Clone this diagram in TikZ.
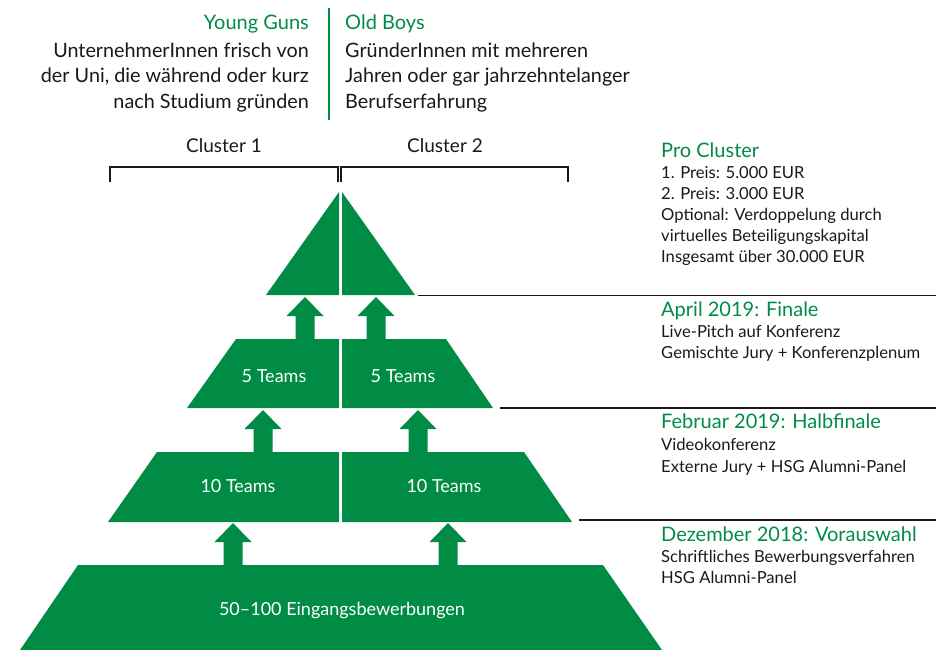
\documentclass[tikz,border=0pt]{standalone}
\usepackage{fontspec}
\setmainfont{Lato}
\definecolor{hsggreen}{RGB}{0,140,69}
\definecolor{ink}{RGB}{25,25,25}
\tikzset{
  tier/.style={fill=hsggreen},
  uparr/.style={fill=hsggreen},
  sepline/.style={draw=ink, line width=1.6pt},
  bracketline/.style={draw=ink, line width=1.4pt},
  divider/.style={draw=hsggreen, line width=1.8pt},
  tophead/.style={inner sep=0pt, text=hsggreen, font=\fontsize{20}{24}\selectfont},
  topbody/.style={inner sep=0pt, text=ink, font=\fontsize{19.8}{22}\selectfont},
  clusterlbl/.style={inner sep=0pt, text=ink, font=\fontsize{19}{22}\selectfont},
  sidehead/.style={inner sep=0pt, text=hsggreen, font=\fontsize{20}{24}\selectfont},
  sidebody/.style={inner sep=0pt, text=ink, font=\fontsize{16.6}{20}\selectfont},
  intext/.style={inner sep=0pt, text=white, font=\fontsize{18}{22}\selectfont},
}
\newcommand\myuparrow[3]{%
  \fill[uparr] (#1-9.5,#3) -- (#1-9.5,#2+19) -- (#1-18.5,#2+19) -- (#1,#2)
    -- (#1+18.5,#2+19) -- (#1+9.5,#2+19) -- (#1+9.5,#3) -- cycle;}
\begin{document}
\begin{tikzpicture}[x=1pt,y=-1pt]
\useasboundingbox (0,0) rectangle (936,649);

% top texts
\draw[divider] (329,8) -- (329,120);
\node[tophead, anchor=base east] (yg) at (309,29) {Young Guns};
\node[topbody, anchor=base east] (yg1) at (309,57) {UnternehmerInnen frisch von};
\node[topbody, anchor=base east] (yg2) at (309,82.5) {der Uni, die während oder kurz};
\node[topbody, anchor=base east] (yg3) at (309,108) {nach Studium gründen};
\node[tophead, anchor=base west] (ob) at (345,29) {Old Boys};
\node[topbody, anchor=base west] (ob1) at (345,57) {GründerInnen mit mehreren};
\node[topbody, anchor=base west] (ob2) at (345,82.5) {Jahren oder gar jahrzehntelanger};
\node[topbody, anchor=base west] (ob3) at (345,108) {Berufserfahrung};

% clusters
\node[clusterlbl, anchor=base] (c1) at (224,152) {Cluster 1};
\node[clusterlbl, anchor=base] (c2) at (445,152) {Cluster 2};
\draw[bracketline] (110,182) -- (110,167) -- (338,167) -- (338,182);
\draw[bracketline] (341,182) -- (341,167) -- (568,167) -- (568,182);

% pyramid
\fill[tier] (266,295) -- (339,192) -- (339,295) -- cycle;
\fill[tier] (342,192) -- (415,295) -- (342,295) -- cycle;
\fill[tier] (187,408) -- (236,339) -- (339,339) -- (339,408) -- cycle;
\fill[tier] (342,339) -- (446,339) -- (493,408) -- (342,408) -- cycle;
\fill[tier] (108,522) -- (157,452) -- (339,452) -- (339,522) -- cycle;
\fill[tier] (342,452) -- (524,452) -- (572,522) -- (342,522) -- cycle;
\fill[tier] (20,650) -- (78,565) -- (603,565) -- (662,650) -- cycle;

\myuparrow{305}{297}{340}
\myuparrow{376}{297}{340}
\myuparrow{263}{410}{453}
\myuparrow{418}{410}{453}
\myuparrow{233}{523}{566}
\myuparrow{448}{523}{566}

\node[intext, anchor=base] (t5a) at (274,382) {5 Teams};
\node[intext, anchor=base] (t5b) at (403,382) {5 Teams};
\node[intext, anchor=base] (t10a) at (238,492) {10 Teams};
\node[intext, anchor=base] (t10b) at (444,492) {10 Teams};
\node[intext, anchor=base] (t50) at (342,615) {50--100 Eingangsbewerbungen};

% separator lines
\draw[sepline] (418,295.5) -- (936,295.5);
\draw[sepline] (500,408) -- (936,408);
\draw[sepline] (579,520) -- (936,520);

% right column
\node[sidehead, anchor=base west] (pc) at (661,157) {Pro Cluster};
\node[sidebody, anchor=base west] (pc1) at (661,178) {1. Preis: 5.000 EUR};
\node[sidebody, anchor=base west] (pc2) at (661,199) {2. Preis: 3.000 EUR};
\node[sidebody, anchor=base west] (pc3) at (661,220) {Optional: Verdoppelung durch};
\node[sidebody, anchor=base west] (pc4) at (661,241) {virtuelles Beteiligungskapital};
\node[sidebody, anchor=base west] (pc5) at (661,262) {Insgesamt über 30.000 EUR};

\node[sidehead, anchor=base west] (fi) at (661,316) {April 2019: Finale};
\node[sidebody, anchor=base west] (fi1) at (661,337) {Live-Pitch auf Konferenz};
\node[sidebody, anchor=base west] (fi2) at (661,358) {Gemischte Jury + Konferenzplenum};

\node[sidehead, anchor=base west] (hf) at (661,428) {Februar 2019: Halbfinale};
\node[sidebody, anchor=base west] (hf1) at (661,450) {Videokonferenz};
\node[sidebody, anchor=base west] (hf2) at (661,472) {Externe Jury + HSG Alumni-Panel};

\node[sidehead, anchor=base west] (va) at (661,541) {Dezember 2018: Vorauswahl};
\node[sidebody, anchor=base west] (va1) at (661,562) {Schriftliches Bewerbungsverfahren};
\node[sidebody, anchor=base west] (va2) at (661,583) {HSG Alumni-Panel};
\end{tikzpicture}
\end{document}
